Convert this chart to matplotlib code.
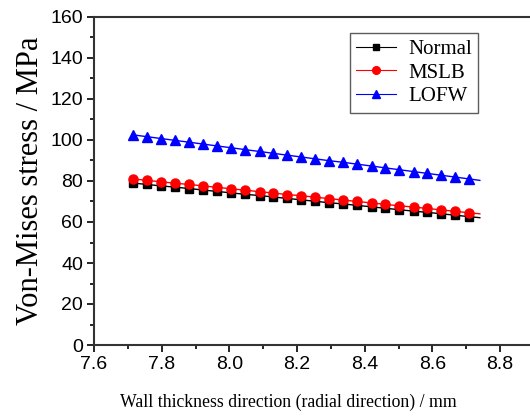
import numpy as np
import matplotlib
matplotlib.use('Agg')
import matplotlib.pyplot as plt
from matplotlib.ticker import MultipleLocator

# data (the last point of each line carries no marker)
x = [7.716, 7.757, 7.799, 7.840, 7.882, 7.923, 7.964, 8.006, 8.047, 8.089,
     8.130, 8.171, 8.213, 8.254, 8.295, 8.337, 8.378, 8.420, 8.461, 8.502,
     8.544, 8.585, 8.626, 8.668, 8.709, 8.740]
normal = [79.0, 78.3, 77.6, 77.0, 76.3, 75.6, 74.9, 74.2, 73.5, 72.9,
          72.2, 71.5, 70.8, 70.1, 69.4, 68.8, 68.1, 67.4, 66.7, 66.0,
          65.3, 64.7, 64.0, 63.3, 62.6, 62.1]
mslb = [81.0, 80.3, 79.6, 78.9, 78.3, 77.6, 76.9, 76.2, 75.5, 74.8,
        74.1, 73.4, 72.8, 72.1, 71.4, 70.7, 70.0, 69.3, 68.6, 67.9,
        67.3, 66.6, 65.9, 65.2, 64.5, 64.0]
lofw = [102.5, 101.6, 100.7, 99.8, 98.9, 98.0, 97.1, 96.2, 95.3, 94.4,
        93.5, 92.6, 91.7, 90.8, 89.9, 89.1, 88.2, 87.3, 86.4, 85.5,
        84.6, 83.7, 82.8, 81.9, 81.0, 80.3]
series_names = ['Normal', 'MSLB', 'LOFW']

W, H = 530, 417
fig = plt.figure(figsize=(W / 100, H / 100), dpi=100)
# axes box runs past the right edge of the picture, as in the reference
ax = fig.add_axes([94 / W, 1 - 345 / H, 440 / W, 328 / H])

marks = list(range(len(x) - 1))
ax.plot(x, normal, color='black', lw=1, marker='s', ms=5.5, markevery=marks,
        label=series_names[0])
ax.plot(x, mslb, color='red', lw=1, marker='o', ms=6.5, markevery=marks,
        label=series_names[1])
ax.plot(x, lofw, color='blue', lw=1, marker='^', ms=7, markevery=marks,
        label=series_names[2])

ax.set_xlim(7.6, 8.9)
ax.set_ylim(0, 160)
ax.xaxis.set_major_locator(MultipleLocator(0.2))
ax.xaxis.set_minor_locator(MultipleLocator(0.1))
ax.yaxis.set_major_locator(MultipleLocator(20))
ax.yaxis.set_minor_locator(MultipleLocator(10))
ax.tick_params(which='major', direction='out', length=5, width=1.2,
               labelsize=14, pad=3, top=False, right=False)
ax.tick_params(which='minor', direction='out', length=3, width=1.2,
               top=False, right=False)
for lab in ax.get_xticklabels() + ax.get_yticklabels():
    lab.set_fontfamily('Liberation Sans')
ax.xaxis.set_major_formatter(matplotlib.ticker.FormatStrFormatter('%.1f'))
for sp in ax.spines.values():
    sp.set_linewidth(1.5)
    sp.set_color('#333333')

ax.set_xlabel('Wall thickness direction (radial direction) / mm',
              fontfamily='Liberation Serif', fontsize=12.8)
ax.xaxis.set_label_coords(194 / 440, -49 / 328)
ax.set_ylabel('Von-Mises stress / MPa', fontfamily='Liberation Serif',
              fontsize=22, labelpad=4)

leg = ax.legend(loc='upper left', bbox_to_anchor=(256 / 440, 1 - 16 / 328),
                prop={'family': 'Liberation Serif', 'size': 15},
                frameon=True, fancybox=False, handlelength=1.9,
                markerscale=0.85, borderpad=0.3, labelspacing=0.2,
                handletextpad=0.6, borderaxespad=0)
leg.get_frame().set_edgecolor('#333333')
leg.get_frame().set_linewidth(1)
for h in leg.get_lines():
    h.set_linewidth(0.8)

fig.savefig('out.png', dpi=100)
